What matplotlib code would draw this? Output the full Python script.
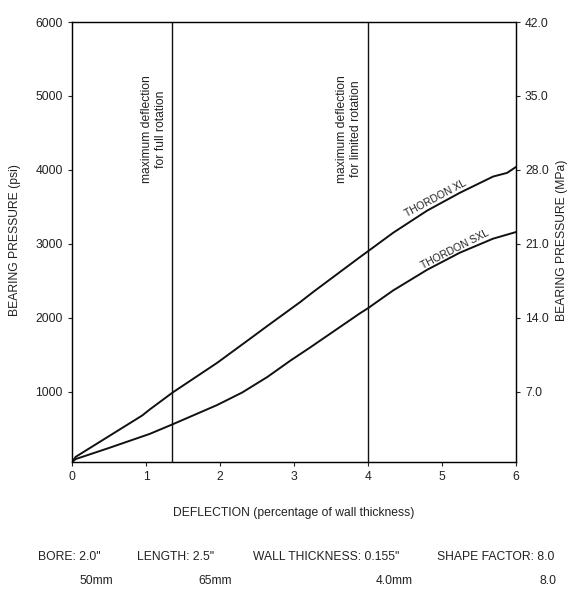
import matplotlib
matplotlib.use("Agg")
import matplotlib.pyplot as plt

plt.rcParams["font.family"] = ["Liberation Sans", "DejaVu Sans"]
plt.rcParams["font.size"] = 8.7

# curve data (deflection %, bearing pressure psi)
xl_x = [0, 0.05, 0.5, 0.95, 1.05, 1.36, 1.96, 2.41, 2.64, 3.08, 3.26, 3.89, 4.0,
        4.34, 4.8, 5.24, 5.69, 5.88, 6.0]
xl_y = [50, 120, 400, 680, 760, 990, 1390, 1720, 1890, 2210, 2350, 2820, 2900,
        3150, 3450, 3690, 3910, 3960, 4040]

sxl_x = [0, 0.05, 0.5, 1.05, 1.36, 1.96, 2.3, 2.64, 2.95, 3.22, 3.89, 4.0, 4.34,
         4.8, 5.24, 5.69, 6.0]
sxl_y = [50, 90, 240, 430, 560, 820, 990, 1200, 1420, 1600, 2060, 2130, 2370,
         2650, 2880, 3070, 3160]

full_rot = 1.35
limited_rot = 4.0

psi_ticks = [1000, 2000, 3000, 4000, 5000, 6000]
mpa_ticks = [7.0, 14.0, 21.0, 28.0, 35.0, 42.0]
x_ticks = [0, 1, 2, 3, 4, 5, 6]

specs_top = ['BORE: 2.0"', 'LENGTH: 2.5"', 'WALL THICKNESS: 0.155"', 'SHAPE FACTOR: 8.0']
specs_bottom = ['50mm', '65mm', '4.0mm', '8.0']

txt = "#222222"

fig = plt.figure(figsize=(5.67, 5.89), dpi=100)
ax = fig.add_axes([0.127, 0.2156, 0.783, 0.747])

ax.plot(xl_x, xl_y, color="#111111", lw=1.4)
ax.plot(sxl_x, sxl_y, color="#111111", lw=1.4)
ax.axvline(full_rot, color="#111111", lw=1.0)
ax.axvline(limited_rot, color="#111111", lw=1.0)

ax.set_xlim(0, 6)
ax.set_ylim(50, 6000)
ax.set_xticks(x_ticks)
ax.set_yticks(psi_ticks)
ax.tick_params(direction="out", length=3, width=0.8, colors=txt, labelsize=8.7)
for s in ax.spines.values():
    s.set_linewidth(1.0)
    s.set_color("#222222")

ax2 = ax.twinx()
ax2.set_ylim(50 * 0.007, 42.0)
ax2.set_yticks(mpa_ticks)
ax2.set_yticklabels([f"{v:.1f}" for v in mpa_ticks])
ax2.tick_params(direction="out", length=3, width=0.8, colors=txt, labelsize=8.7)

ax.text(1.28, 5280, "maximum deflection\nfor full rotation", rotation=90,
        ha="right", va="top", multialignment="center", color=txt)
ax.text(3.92, 5280, "maximum deflection\nfor limited rotation", rotation=90,
        ha="right", va="top", multialignment="center", color=txt)
ax.text(4.91, 3615, "THORDON XL", rotation=28, ha="center", va="center",
        color=txt, fontsize=7.5, rotation_mode="anchor")
ax.text(5.18, 2920, "THORDON SXL", rotation=27, ha="center", va="center",
        color=txt, fontsize=7.5, rotation_mode="anchor")

fig.text(15 / 567, 1 - 240 / 589, "BEARING PRESSURE (psi)", rotation=90,
         ha="center", va="center", color=txt)
fig.text(562 / 567, 1 - 240 / 589, "BEARING PRESSURE (MPa)", rotation=90,
         ha="center", va="center", color=txt)
fig.text(294 / 567, 1 - 513 / 589, "DEFLECTION (percentage of wall thickness)",
         ha="center", va="center", color=txt)

top_x = [38, 137, 253, 437]
for xp, s in zip(top_x, specs_top):
    fig.text(xp / 567, 1 - 557 / 589, s, ha="left", va="center", color=txt)
bot_x = [96, 215, 413, 556]
bot_ha = ["center", "center", "right", "right"]
for xp, s, ha in zip(bot_x, specs_bottom, bot_ha):
    fig.text(xp / 567, 1 - 581 / 589, s, ha=ha, va="center", color=txt)

fig.savefig("out.png", dpi=100)
